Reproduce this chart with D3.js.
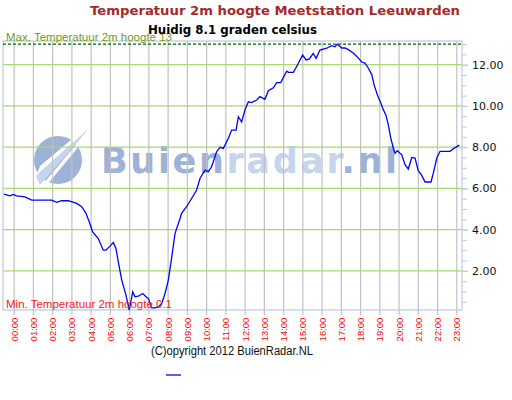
<!DOCTYPE html>
<html>
<head>
<meta charset="utf-8">
<script src="https://cdn.jsdelivr.net/npm/d3@7"></script>
<style>
  html, body { margin: 0; padding: 0; background: #fff; }
  svg { display: block; }
</style>
</head>
<body>
<svg id="chart" width="512" height="400"></svg>
<script>
// ---- data ----
const titleText = "Temperatuur 2m hoogte Meetstation Leeuwarden";
const subtitleText = "Huidig 8.1 graden celsius";
const maxLabel = "Max. Temperatuur 2m hoogte 13";
const minLabel = "Min. Temperatuur 2m hoogte 0.1";
const copyrightText = "(C)opyright 2012 BuienRadar.NL";
const maxTemp = 13;
const minTemp = 0.1;

// time of day (hours) and temperature (°C)
const hours = [
  -0.53, -0.22, -0.05, 0.13, 0.56, 0.91, 1.95, 2.21, 2.47, 2.81, 3.25, 3.51, 3.73, 3.90,
  4.08, 4.37, 4.63, 4.77, 4.98, 5.15, 5.29, 5.41, 5.59, 5.81, 5.98, 6.16, 6.28, 6.45,
  6.68, 6.89, 6.97, 7.15, 7.32, 7.49, 7.67, 7.84, 8.01, 8.19, 8.36, 8.62, 8.70, 8.96,
  9.22, 9.48, 9.66, 9.92, 10.09, 10.26, 10.52, 10.70, 10.87, 11.13, 11.30, 11.53, 11.65,
  11.82, 11.99, 12.17, 12.34, 12.60, 12.77, 13.03, 13.21, 13.47, 13.64, 13.85, 14.16,
  14.25, 14.51, 14.77, 14.99, 15.17, 15.34, 15.54, 15.69, 15.89, 16.24, 16.50, 16.67,
  16.79, 17.02, 17.19, 17.36, 17.62, 17.88, 18.06, 18.23, 18.40, 18.58, 18.70, 18.87,
  19.05, 19.18, 19.32, 19.44, 19.57, 19.70, 19.79, 19.91, 20.14, 20.31, 20.48, 20.66,
  20.83, 21.00, 21.18, 21.35, 21.66, 21.78, 21.96, 22.13, 22.65, 22.82, 23.13
];
const temps = [
  5.72, 5.64, 5.71, 5.64, 5.59, 5.43, 5.43, 5.32, 5.40, 5.40, 5.27, 5.11, 4.79, 4.38,
  3.89, 3.57, 3.00, 3.00, 3.20, 3.38, 3.09, 2.44, 1.55, 0.82, 0.10, 0.98, 0.74, 0.77,
  0.90, 0.71, 0.66, 0.20, 0.20, 0.25, 0.42, 0.90, 1.55, 2.68, 3.82, 4.54, 4.79, 5.11,
  5.51, 5.92, 6.49, 6.89, 6.81, 7.05, 7.78, 7.99, 7.94, 8.43, 8.83, 8.83, 9.48,
  9.23, 9.80, 10.20, 10.16, 10.29, 10.45, 10.32, 10.74, 10.88, 11.13, 11.13, 11.69,
  11.63, 11.63, 12.07, 12.47, 12.23, 12.28, 12.55, 12.31, 12.71, 12.80, 12.92, 12.87,
  13.00, 12.81, 12.81, 12.73, 12.57, 12.33, 12.13, 12.08, 11.84, 11.52, 11.03, 10.54,
  10.14, 9.82, 9.54, 9.09, 8.44, 7.96, 7.71, 7.83, 7.63, 7.15, 6.94, 7.50,
  7.47, 6.85, 6.63, 6.31, 6.31, 6.74, 7.47, 7.80, 7.80, 7.92, 8.10
];

const hourTicks = [0,1,2,3,4,5,6,7,8,9,10,11,12,13,14,15,16,17,18,19,20,21,22,23];
const hourLabels = ["00:00","01:00","02:00","03:00","04:00","05:00","06:00","07:00",
  "08:00","09:00","10:00","11:00","12:00","13:00","14:00","15:00","16:00","17:00",
  "18:00","19:00","20:00","21:00","22:00","23:00"];
const majorTicks = [2, 4, 6, 8, 10, 12];
const minorTicks = [0.5,1,1.5,2,2.5,3,3.5,4,4.5,5,5.5,6,6.5,7,7.5,8,8.5,9,9.5,10,10.5,11,11.5,12,12.5,13];

// ---- layout ----
const plot = { left: 3, right: 462, top: 41, bottom: 310 };
const svg = d3.select("#chart");

const x = d3.scaleLinear().domain([-0.58, 23.27]).range([plot.left, plot.right]);
const y = d3.scaleLinear().domain([0.1, 13.15]).range([plot.bottom, plot.top]);

// watermark
const wm = svg.append("g").attr("class", "watermark");
wm.append("circle").attr("cx", 58).attr("cy", 160).attr("r", 24).attr("fill", "#9cb2d7");
wm.append("path")
  .attr("d", "M36,176 L86,131 L84,129 L40,166 Z")
  .attr("fill", "#ffffff");
wm.append("path")
  .attr("d", "M40,185 L88,130 L86,131 L36,176 Z")
  .attr("fill", "#c5d5ee");
wm.append("path")
  .attr("d", "M43,184 L46,186 L90,133 L88,130 Z")
  .attr("fill", "#ffffff");
const wmText = wm.append("text")
  .attr("x", 101).attr("y", 173)
  .attr("font-family", "DejaVu Sans, Verdana, sans-serif")
  .attr("font-weight", "bold").attr("font-size", 35)
  .attr("textLength", 296).attr("lengthAdjust", "spacing");
wmText.append("tspan").attr("fill", "#9cb2d7").text("Buien");
wmText.append("tspan").attr("fill", "#c5d5ee").text("radar");
wmText.append("tspan").attr("fill", "#9cb2d7").text(".nl");

// vertical grid (hours)
svg.append("g").selectAll("line").data(hourTicks).join("line")
  .attr("x1", d => x(d)).attr("x2", d => x(d))
  .attr("y1", plot.top).attr("y2", plot.bottom + 5)
  .attr("stroke", "#c0c0c0").attr("stroke-width", 1.2);

// horizontal grid
svg.append("g").selectAll("line").data(majorTicks).join("line")
  .attr("x1", plot.left).attr("x2", plot.right)
  .attr("y1", d => y(d)).attr("y2", d => y(d))
  .attr("stroke", "#a9d86e").attr("stroke-width", 1.2);

// frame
svg.append("rect")
  .attr("x", plot.left).attr("y", plot.top)
  .attr("width", plot.right - plot.left).attr("height", plot.bottom - plot.top)
  .attr("fill", "none").attr("stroke", "#bcc8da").attr("stroke-width", 1.2);

// right axis
const minorAxis = svg.append("g")
  .attr("transform", `translate(${plot.right},0)`)
  .call(d3.axisRight(y).tickValues(minorTicks).tickSize(5).tickFormat(""));
minorAxis.select(".domain").remove();
minorAxis.selectAll("line").attr("stroke", "#bcc8da");

const majorAxis = svg.append("g")
  .attr("transform", `translate(${plot.right},0)`)
  .call(d3.axisRight(y).tickValues(majorTicks).tickSize(6).tickPadding(4).tickFormat(d3.format(".2f")));
majorAxis.select(".domain").remove();
majorAxis.selectAll("line").attr("stroke", "#bcc8da");
majorAxis.selectAll("text")
  .attr("font-family", "DejaVu Sans, Verdana, sans-serif")
  .attr("font-size", 11).attr("fill", "#111");

// x labels rotated
svg.append("g").selectAll("text").data(hourTicks).join("text")
  .attr("transform", d => `translate(${x(d) + 3.5},${plot.bottom + 19.5}) rotate(-90)`)
  .attr("font-family", "Liberation Sans, Arial, sans-serif")
  .attr("font-size", 9.5).attr("fill", "#ff0000")
  .attr("text-anchor", "middle")
  .text((d, i) => hourLabels[i]);

// max dashed line
svg.append("line")
  .attr("x1", plot.left).attr("x2", plot.right)
  .attr("y1", y(maxTemp)).attr("y2", y(maxTemp))
  .attr("stroke", "#006400").attr("stroke-width", 1.2).attr("stroke-dasharray", "3,2");

// temperature line
const line = d3.line().x((d, i) => x(hours[i])).y(d => y(d));
svg.append("path").datum(temps)
  .attr("d", line).attr("fill", "none")
  .attr("stroke", "#0000ff").attr("stroke-width", 1.3);

// max/min labels
svg.append("text").attr("x", 6).attr("y", 41)
  .attr("font-family", "Liberation Sans, Arial, sans-serif").attr("font-size", 11.5)
  .attr("fill", "#6f9a1a").text(maxLabel);
svg.append("text").attr("x", 6).attr("y", 308)
  .attr("font-family", "Liberation Sans, Arial, sans-serif").attr("font-size", 11.5)
  .attr("fill", "#ff1a1a").text(minLabel);

// titles
svg.append("text").attr("x", 275).attr("y", 15)
  .attr("text-anchor", "middle")
  .attr("font-family", "DejaVu Sans, Verdana, sans-serif").attr("font-weight", "bold")
  .attr("font-size", 13).attr("fill", "#a82828")
  .attr("textLength", 370).attr("lengthAdjust", "spacingAndGlyphs")
  .text(titleText);
svg.append("text").attr("x", 232.5).attr("y", 34)
  .attr("text-anchor", "middle")
  .attr("font-family", "DejaVu Sans, Verdana, sans-serif").attr("font-weight", "bold")
  .attr("font-size", 13).attr("fill", "#000")
  .attr("textLength", 169).attr("lengthAdjust", "spacingAndGlyphs")
  .text(subtitleText);

// copyright
svg.append("text").attr("x", 232).attr("y", 355)
  .attr("text-anchor", "middle")
  .attr("font-family", "Liberation Sans, Arial, sans-serif")
  .attr("font-size", 12).attr("fill", "#111")
  .attr("textLength", 162).attr("lengthAdjust", "spacingAndGlyphs")
  .text(copyrightText);

// legend swatch
svg.append("line").attr("x1", 166).attr("x2", 181).attr("y1", 375).attr("y2", 375)
  .attr("stroke", "#0000ff").attr("stroke-width", 1.3);
</script>
</body>
</html>
